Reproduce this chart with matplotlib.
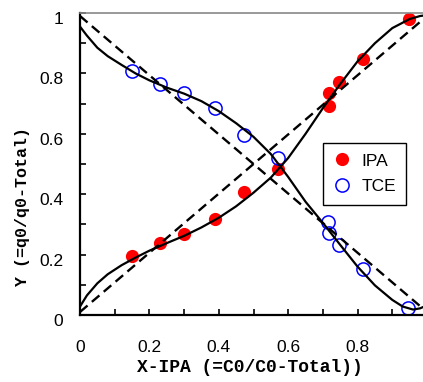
import matplotlib
matplotlib.use("Agg")
import matplotlib.pyplot as plt
import matplotlib.transforms as mtransforms
from matplotlib.ticker import MultipleLocator

# measured points
ipa_x = [0.149, 0.231, 0.301, 0.389, 0.473, 0.571, 0.718, 0.718, 0.746, 0.817, 0.948]
ipa_y = [0.196, 0.237, 0.268, 0.318, 0.408, 0.483, 0.692, 0.736, 0.773, 0.848, 0.980]
tce_x = [0.149, 0.231, 0.301, 0.389, 0.473, 0.571, 0.716, 0.718, 0.745, 0.817, 0.946]
tce_y = [0.808, 0.765, 0.734, 0.684, 0.596, 0.519, 0.309, 0.270, 0.232, 0.152, 0.024]

# model curves (solid)
ipa_fit_x = [0.0, 0.02, 0.05, 0.08, 0.12, 0.16, 0.20, 0.25, 0.30, 0.35, 0.40, 0.45,
             0.50, 0.55, 0.60, 0.65, 0.70, 0.75, 0.80, 0.85, 0.90, 0.95, 0.98, 1.0]
ipa_fit_y = [0.028, 0.065, 0.105, 0.135, 0.165, 0.19, 0.213, 0.238, 0.262, 0.29, 0.322, 0.36,
             0.405, 0.455, 0.52, 0.60, 0.685, 0.765, 0.84, 0.90, 0.95, 0.98, 0.99, 0.993]
tce_fit_x = [0.0, 0.02, 0.05, 0.08, 0.12, 0.16, 0.20, 0.25, 0.30, 0.35, 0.40, 0.45, 0.50,
             0.55, 0.60, 0.65, 0.70, 0.75, 0.80, 0.85, 0.90, 0.93, 0.96, 0.98, 1.0]
tce_fit_y = [0.955, 0.925, 0.885, 0.857, 0.828, 0.800, 0.777, 0.753, 0.733, 0.708, 0.675,
             0.635, 0.590, 0.533, 0.457, 0.375, 0.305, 0.232, 0.160, 0.098, 0.050, 0.028,
             0.018, 0.022, 0.032]

# ideal lines (dashed)
ideal_x = [0.0, 1.0]
ipa_ideal_y = [0.01, 0.99]
tce_ideal_y = [0.99, 0.01]

tick_vals = [0, 0.2, 0.4, 0.6, 0.8, 1.0]
tick_labels = ['0', '0.2', '0.4', '0.6', '0.8', '1']

plt.rcParams['font.family'] = ['Liberation Sans', 'DejaVu Sans']

fig = plt.figure(figsize=(4.23, 3.82), dpi=100)
ax = fig.add_axes([80/423, 67/382, 347/423, 302/382])

ax.plot(ipa_x, ipa_y, 'o', color='red', markersize=9.5, markeredgewidth=0, zorder=2)
ax.plot(tce_x, tce_y, 'o', markerfacecolor='none', markeredgecolor='blue',
        markersize=9.5, markeredgewidth=1.1, zorder=2)

ax.plot(ideal_x, ipa_ideal_y, color='black', lw=1.7, ls=(0, (4.2, 2.4)), zorder=3)
ax.plot(ideal_x, tce_ideal_y, color='black', lw=1.7, ls=(0, (4.2, 2.4)), zorder=3)
ax.plot(ipa_fit_x, ipa_fit_y, color='black', lw=1.6, solid_joinstyle='round', zorder=4)
ax.plot(tce_fit_x, tce_fit_y, color='black', lw=1.6, solid_joinstyle='round', zorder=4)

ax.set_xlim(0, 1)
ax.set_ylim(0, 1)
ax.xaxis.set_minor_locator(MultipleLocator(0.1))
ax.yaxis.set_minor_locator(MultipleLocator(0.1))
ax.set_xticks(tick_vals)
ax.set_xticklabels(tick_labels)
ax.set_yticks(tick_vals)
ax.set_yticklabels(tick_labels)
ax.tick_params(which='both', direction='in', length=4, width=1.2, labelsize=12.5)
ax.tick_params(axis='x', pad=18)
ax.tick_params(axis='y', pad=12)

# y tick labels sit a little below their ticks in the original
shift = mtransforms.ScaledTranslation(0, -5/100, fig.dpi_scale_trans)
for lab in ax.get_yticklabels():
    lab.set_transform(lab.get_transform() + shift)

for s in ['left', 'bottom']:
    ax.spines[s].set_linewidth(1.6)
ax.spines['top'].set_color('#888888')
ax.spines['top'].set_linewidth(1.2)
ax.spines['right'].set_visible(False)

fig.text(250/423, 1 - 368/382, 'X-IPA (=C0/C0-Total))', family='Liberation Mono',
         fontweight='bold', fontsize=13, ha='center', va='center')
fig.text(23/423, 1 - 207/382, 'Y (=q0/q0-Total)', family='Liberation Mono',
         fontweight='bold', fontsize=12, ha='center', va='center', rotation=90)

h1, = ax.plot([], [], 'o', color='red', markersize=9.5, markeredgewidth=0)
h2, = ax.plot([], [], 'o', markerfacecolor='none', markeredgecolor='blue',
              markersize=9.5, markeredgewidth=1.1)
leg = ax.legend([h1, h2], ['IPA', 'TCE'], loc='upper left',
                bbox_to_anchor=(323/423, 1 - 143/382), bbox_transform=fig.transFigure,
                fontsize=12.5, fancybox=False, framealpha=1, edgecolor='black',
                handlelength=1.0, handletextpad=0.6, borderpad=0.6, labelspacing=0.6,
                borderaxespad=0)
leg.get_frame().set_linewidth(1.0)

fig.savefig('out.png', dpi=100)
